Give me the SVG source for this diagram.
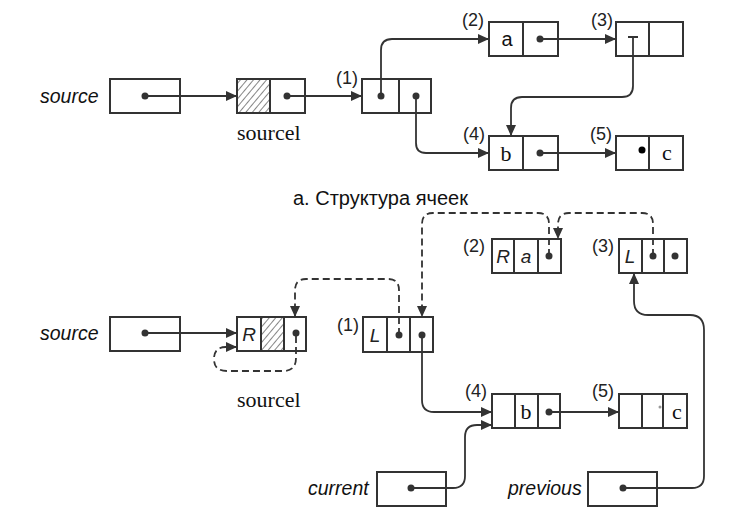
<svg xmlns="http://www.w3.org/2000/svg" width="736" height="522" viewBox="0 0 736 522">
<defs>
<pattern id="hatch" patternUnits="userSpaceOnUse" width="5" height="5" patternTransform="rotate(40)">
<line x1="0" y1="0" x2="0" y2="5" stroke="#333" stroke-width="1.2"/>
</pattern>
<marker id="ah" markerUnits="userSpaceOnUse" markerWidth="12" markerHeight="10" refX="11" refY="5" orient="auto">
<path d="M0,0 L11,5 L0,10 Z" fill="#333"/>
</marker>
</defs>
<style>
.box{fill:#fff;stroke:#333;stroke-width:2}
.div{stroke:#333;stroke-width:2}
.dot{fill:#333}
.ln{fill:none;stroke:#333;stroke-width:1.8}
.dash{fill:none;stroke:#333;stroke-width:1.8;stroke-dasharray:7,4}
.lab{font-family:"Liberation Sans",Arial,sans-serif;font-style:italic;font-size:19.5px;fill:#111}
.num{font-family:"Liberation Sans",Arial,sans-serif;font-size:18px;fill:#222}
.ser{font-family:"Liberation Serif","Times New Roman",serif;font-size:22px;fill:#111}
.it{font-family:"Liberation Sans",Arial,sans-serif;font-style:italic;font-size:19px;fill:#222}
.cap{font-family:"Liberation Sans",Arial,sans-serif;font-size:20px;fill:#111}
</style>

<!-- Top part -->
<g id="t-source">
<text class="lab" x="40" y="103">source</text>
<rect class="box" x="110" y="79" width="70" height="34"/>
<circle class="dot" cx="145" cy="96" r="3.5"/>
</g>
<g id="t-sourcel">
<rect class="box" x="237" y="79" width="68" height="34"/>
<rect x="238" y="80" width="32" height="32" fill="url(#hatch)"/>
<line class="div" x1="270" y1="79" x2="270" y2="113"/>
<circle class="dot" cx="287" cy="96" r="3.5"/>
<text class="ser" x="237" y="140">sourcel</text>
</g>
<g id="t-n1">
<text class="num" x="336" y="84">(1)</text>
<rect class="box" x="362" y="79" width="69" height="34"/>
<line class="div" x1="399" y1="79" x2="399" y2="113"/>
<circle class="dot" cx="381" cy="96" r="3.5"/>
<circle class="dot" cx="416" cy="96" r="3.5"/>
</g>
<g id="t-n2">
<text class="num" x="462" y="26">(2)</text>
<rect class="box" x="489" y="22" width="69" height="34"/>
<line class="div" x1="523" y1="22" x2="523" y2="56"/>
<text class="cap" x="507" y="46" text-anchor="middle" font-size="22">a</text>
<circle class="dot" cx="540" cy="39" r="3.5"/>
</g>
<g id="t-n3">
<text class="num" x="591" y="26">(3)</text>
<rect class="box" x="616" y="22" width="67" height="34"/>
<line class="div" x1="649" y1="22" x2="649" y2="56"/>
<line class="div" x1="628" y1="37" x2="638" y2="37"/>
</g>
<g id="t-n4">
<text class="num" x="463" y="140">(4)</text>
<rect class="box" x="489" y="136" width="69" height="34"/>
<line class="div" x1="523" y1="136" x2="523" y2="170"/>
<text class="ser" x="506" y="161" text-anchor="middle">b</text>
<circle class="dot" cx="540" cy="153" r="3.5"/>
</g>
<g id="t-n5">
<text class="num" x="590" y="140">(5)</text>
<rect class="box" x="616" y="136" width="67" height="34"/>
<line class="div" x1="649" y1="136" x2="649" y2="170"/>
<circle cx="642" cy="150" r="3.5" fill="#000"/>
<text class="ser" x="667" y="160" text-anchor="middle">c</text>
</g>
<text id="caption" class="cap" x="293" y="205">а. Структура ячеек</text>

<!-- Bottom part -->
<g id="b-source">
<text class="lab" x="40" y="340">source</text>
<rect class="box" x="110" y="317" width="70" height="34"/>
<circle class="dot" cx="145" cy="333" r="3.5"/>
</g>
<g id="b-sourcel">
<rect class="box" x="237" y="317" width="69" height="34"/>
<rect x="261" y="318" width="23" height="32" fill="url(#hatch)"/>
<line class="div" x1="261" y1="317" x2="261" y2="351"/>
<line class="div" x1="284" y1="317" x2="284" y2="351"/>
<text class="it" x="249" y="341" text-anchor="middle">R</text>
<circle class="dot" cx="296" cy="333" r="3.5"/>
<text class="ser" x="237" y="407">sourcel</text>
</g>
<g id="b-n1">
<text class="num" x="337" y="331">(1)</text>
<rect class="box" x="363" y="317" width="70" height="35"/>
<line class="div" x1="387" y1="317" x2="387" y2="352"/>
<line class="div" x1="410" y1="317" x2="410" y2="352"/>
<text class="it" x="375" y="342" text-anchor="middle">L</text>
<circle class="dot" cx="399" cy="335" r="3.5"/>
<circle class="dot" cx="422" cy="335" r="3.5"/>
</g>
<g id="b-n2">
<text class="num" x="463" y="252">(2)</text>
<rect class="box" x="492" y="239" width="69" height="34"/>
<line class="div" x1="514" y1="239" x2="514" y2="273"/>
<line class="div" x1="538" y1="239" x2="538" y2="273"/>
<text class="it" x="503" y="263" text-anchor="middle">R</text>
<text class="it" x="526" y="263" text-anchor="middle">a</text>
<circle class="dot" cx="549" cy="256" r="3.5"/>
</g>
<g id="b-n3">
<text class="num" x="592" y="252">(3)</text>
<rect class="box" x="619" y="239" width="68" height="34"/>
<line class="div" x1="642" y1="239" x2="642" y2="273"/>
<line class="div" x1="664" y1="239" x2="664" y2="273"/>
<text class="it" x="630" y="263" text-anchor="middle">L</text>
<circle class="dot" cx="653" cy="256" r="3.5"/>
<circle class="dot" cx="675" cy="256" r="3.5"/>
</g>
<g id="b-n4">
<text class="num" x="465" y="397">(4)</text>
<rect class="box" x="492" y="394" width="68" height="34"/>
<line class="div" x1="515" y1="394" x2="515" y2="428"/>
<line class="div" x1="538" y1="394" x2="538" y2="428"/>
<text class="ser" x="526" y="419" text-anchor="middle">b</text>
<circle class="dot" cx="549" cy="412" r="3.5"/>
</g>
<g id="b-n5">
<text class="num" x="592" y="397">(5)</text>
<rect class="box" x="619" y="394" width="68" height="34"/>
<line class="div" x1="642" y1="394" x2="642" y2="428"/>
<line class="div" x1="663" y1="394" x2="663" y2="428"/>
<circle cx="660" cy="407" r="1.5" fill="#999"/>
<text class="ser" x="677" y="419" text-anchor="middle">c</text>
</g>
<g id="b-current">
<text class="lab" x="308" y="495">current</text>
<rect class="box" x="377" y="472" width="69" height="34"/>
<circle class="dot" cx="411" cy="488" r="3.5"/>
</g>
<g id="b-previous">
<text class="lab" x="508" y="495">previous</text>
<rect class="box" x="588" y="472" width="69" height="34"/>
<circle class="dot" cx="623" cy="488" r="3.5"/>
</g>

<g id="connectors">
<path class="ln" d="M145,96 H237" marker-end="url(#ah)"/>
<path class="ln" d="M287,96 H362" marker-end="url(#ah)"/>
<path class="ln" d="M381,96 V50 Q381,39 392,39 H489" marker-end="url(#ah)"/>
<path class="ln" d="M416,96 V143 Q416,153 426,153 H489" marker-end="url(#ah)"/>
<path class="ln" d="M540,39 H616" marker-end="url(#ah)"/>
<path class="ln" d="M633,37 V86 Q633,97 622,97 H522 Q511,97 511,108 V136" marker-end="url(#ah)"/>
<path class="ln" d="M540,153 H616" marker-end="url(#ah)"/>

<path class="ln" d="M145,333 H237" marker-end="url(#ah)"/>
<path class="dash" d="M296,336 V358 Q296,371 283,371 H227 Q214,371 214,359 Q214,347 226,347 H237" marker-end="url(#ah)"/>
<path class="dash" d="M399,335 V290 Q399,279 388,279 H306 Q295,279 295,290 V317" marker-end="url(#ah)"/>
<path class="dash" d="M549,256 V224 Q549,213 538,213 H433 Q422,213 422,224 V317" marker-end="url(#ah)"/>
<path class="dash" d="M653,256 V224 Q653,213 642,213 H569 Q558,213 558,224 V239" marker-end="url(#ah)"/>
<path class="ln" d="M422,335 V400 Q422,412 434,412 H492" marker-end="url(#ah)"/>
<path class="ln" d="M411,488 H453 Q465,488 465,476 V437 Q465,425 477,425 H492" marker-end="url(#ah)"/>
<path class="ln" d="M623,488 H692 Q704,488 704,476 V330 Q704,315 690,315 H648 Q634,315 634,301 V273" marker-end="url(#ah)"/>
<path class="ln" d="M549,412 H619" marker-end="url(#ah)"/>
</g>
</svg>
